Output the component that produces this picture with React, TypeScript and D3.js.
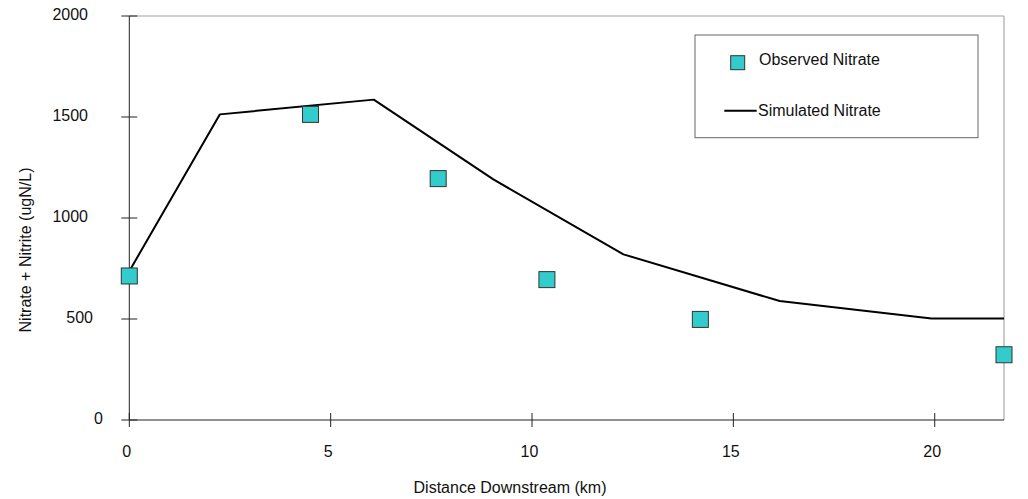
import React from "react";
import * as d3 from "d3";

const simDistance = [0, 2.25, 6.07, 9.04, 12.27, 16.15, 19.92, 21.72];
const simNitrate = [737, 1513, 1586, 1191, 820, 589, 503, 503];
const obsDistance = [0, 4.5, 7.67, 10.37, 14.18, 21.72];
const obsNitrate = [713, 1513, 1195, 695, 498, 323];
const xTicks = [0, 5, 10, 15, 20];
const yTicks = [0, 500, 1000, 1500, 2000];
const legendLabels = ["Observed Nitrate", "Simulated Nitrate"];

const W = 1028;
const H = 499;
const M = { left: 129.3, right: 1004, top: 16, bottom: 420 };
const FONT = "'Liberation Sans', Arial, sans-serif";

export default function App() {
  const x = d3.scaleLinear().domain([0, 21.72]).range([M.left, M.right]);
  const y = d3.scaleLinear().domain([0, 2000]).range([M.bottom, M.top]);
  const sim = simDistance.map((d, i) => [d, simNitrate[i]] as [number, number]);
  const line = d3
    .line<[number, number]>()
    .x((d) => x(d[0]))
    .y((d) => y(d[1]));
  const labelEnd = (s: string) => (s.length === 1 ? 103 : s.length === 3 ? 93 : 88);
  const sq = 16;
  return (
    <svg
      width={W}
      height={H}
      style={{ position: "absolute", left: 0, top: 0, background: "#fff" }}
      fontFamily={FONT}
      fontSize={16}
    >
      <rect x={0} y={0} width={W} height={H} fill="#fff" />
      {/* frame */}
      <line x1={M.left} x2={M.right} y1={M.top} y2={M.top} stroke="#a0a0a0" strokeWidth={1} />
      <line x1={M.right} x2={M.right} y1={M.top} y2={M.bottom} stroke="#b8b8b8" strokeWidth={1.5} />
      {/* axes */}
      <line x1={M.left} x2={M.right} y1={M.bottom} y2={M.bottom} stroke="#222" strokeWidth={1} />
      <line x1={M.left} x2={M.left} y1={M.top} y2={M.bottom} stroke="#222" strokeWidth={1} />
      {yTicks.map((t) => (
        <g key={"y" + t}>
          <line x1={M.left - 8} x2={M.left + 8} y1={y(t)} y2={y(t)} stroke="#222" strokeWidth={1} />
          <text x={labelEnd(String(t))} y={y(t) + 4} textAnchor="end" fill="#111">
            {t}
          </text>
        </g>
      ))}
      {xTicks.map((t) => (
        <g key={"x" + t}>
          <line x1={x(t)} x2={x(t)} y1={M.bottom - 7} y2={M.bottom + 7} stroke="#222" strokeWidth={1} />
          <text x={x(t) - 2.5} y={457} textAnchor="middle" fill="#111">
            {t}
          </text>
        </g>
      ))}
      <text x={510} y={493} textAnchor="middle" fill="#111">
        Distance Downstream (km)
      </text>
      <text
        transform={`translate(31,250) rotate(-90)`}
        textAnchor="middle"
        fill="#111"
      >
        Nitrate + Nitrite (ugN/L)
      </text>
      {/* simulated line */}
      <path d={line(sim) || ""} fill="none" stroke="#000" strokeWidth={2} strokeLinejoin="round" />
      {/* observed */}
      {obsDistance.map((d, i) => (
        <rect
          key={"o" + i}
          x={x(d) - sq / 2}
          y={y(obsNitrate[i]) - sq / 2}
          width={sq}
          height={sq}
          fill="#33CCCC"
          stroke="#333"
          strokeWidth={1}
        />
      ))}
      {/* legend */}
      <rect x={695} y={35} width={283} height={102.7} fill="#fff" stroke="#666" strokeWidth={1} />
      <rect x={730.7} y={55.7} width={14} height={14} fill="#33CCCC" stroke="#333" strokeWidth={1} />
      <text x={759} y={65} fill="#111">
        {legendLabels[0]}
      </text>
      <line x1={724.3} x2={756.7} y1={110.7} y2={110.7} stroke="#000" strokeWidth={2} />
      <text x={758} y={116} fill="#111">
        {legendLabels[1]}
      </text>
    </svg>
  );
}
